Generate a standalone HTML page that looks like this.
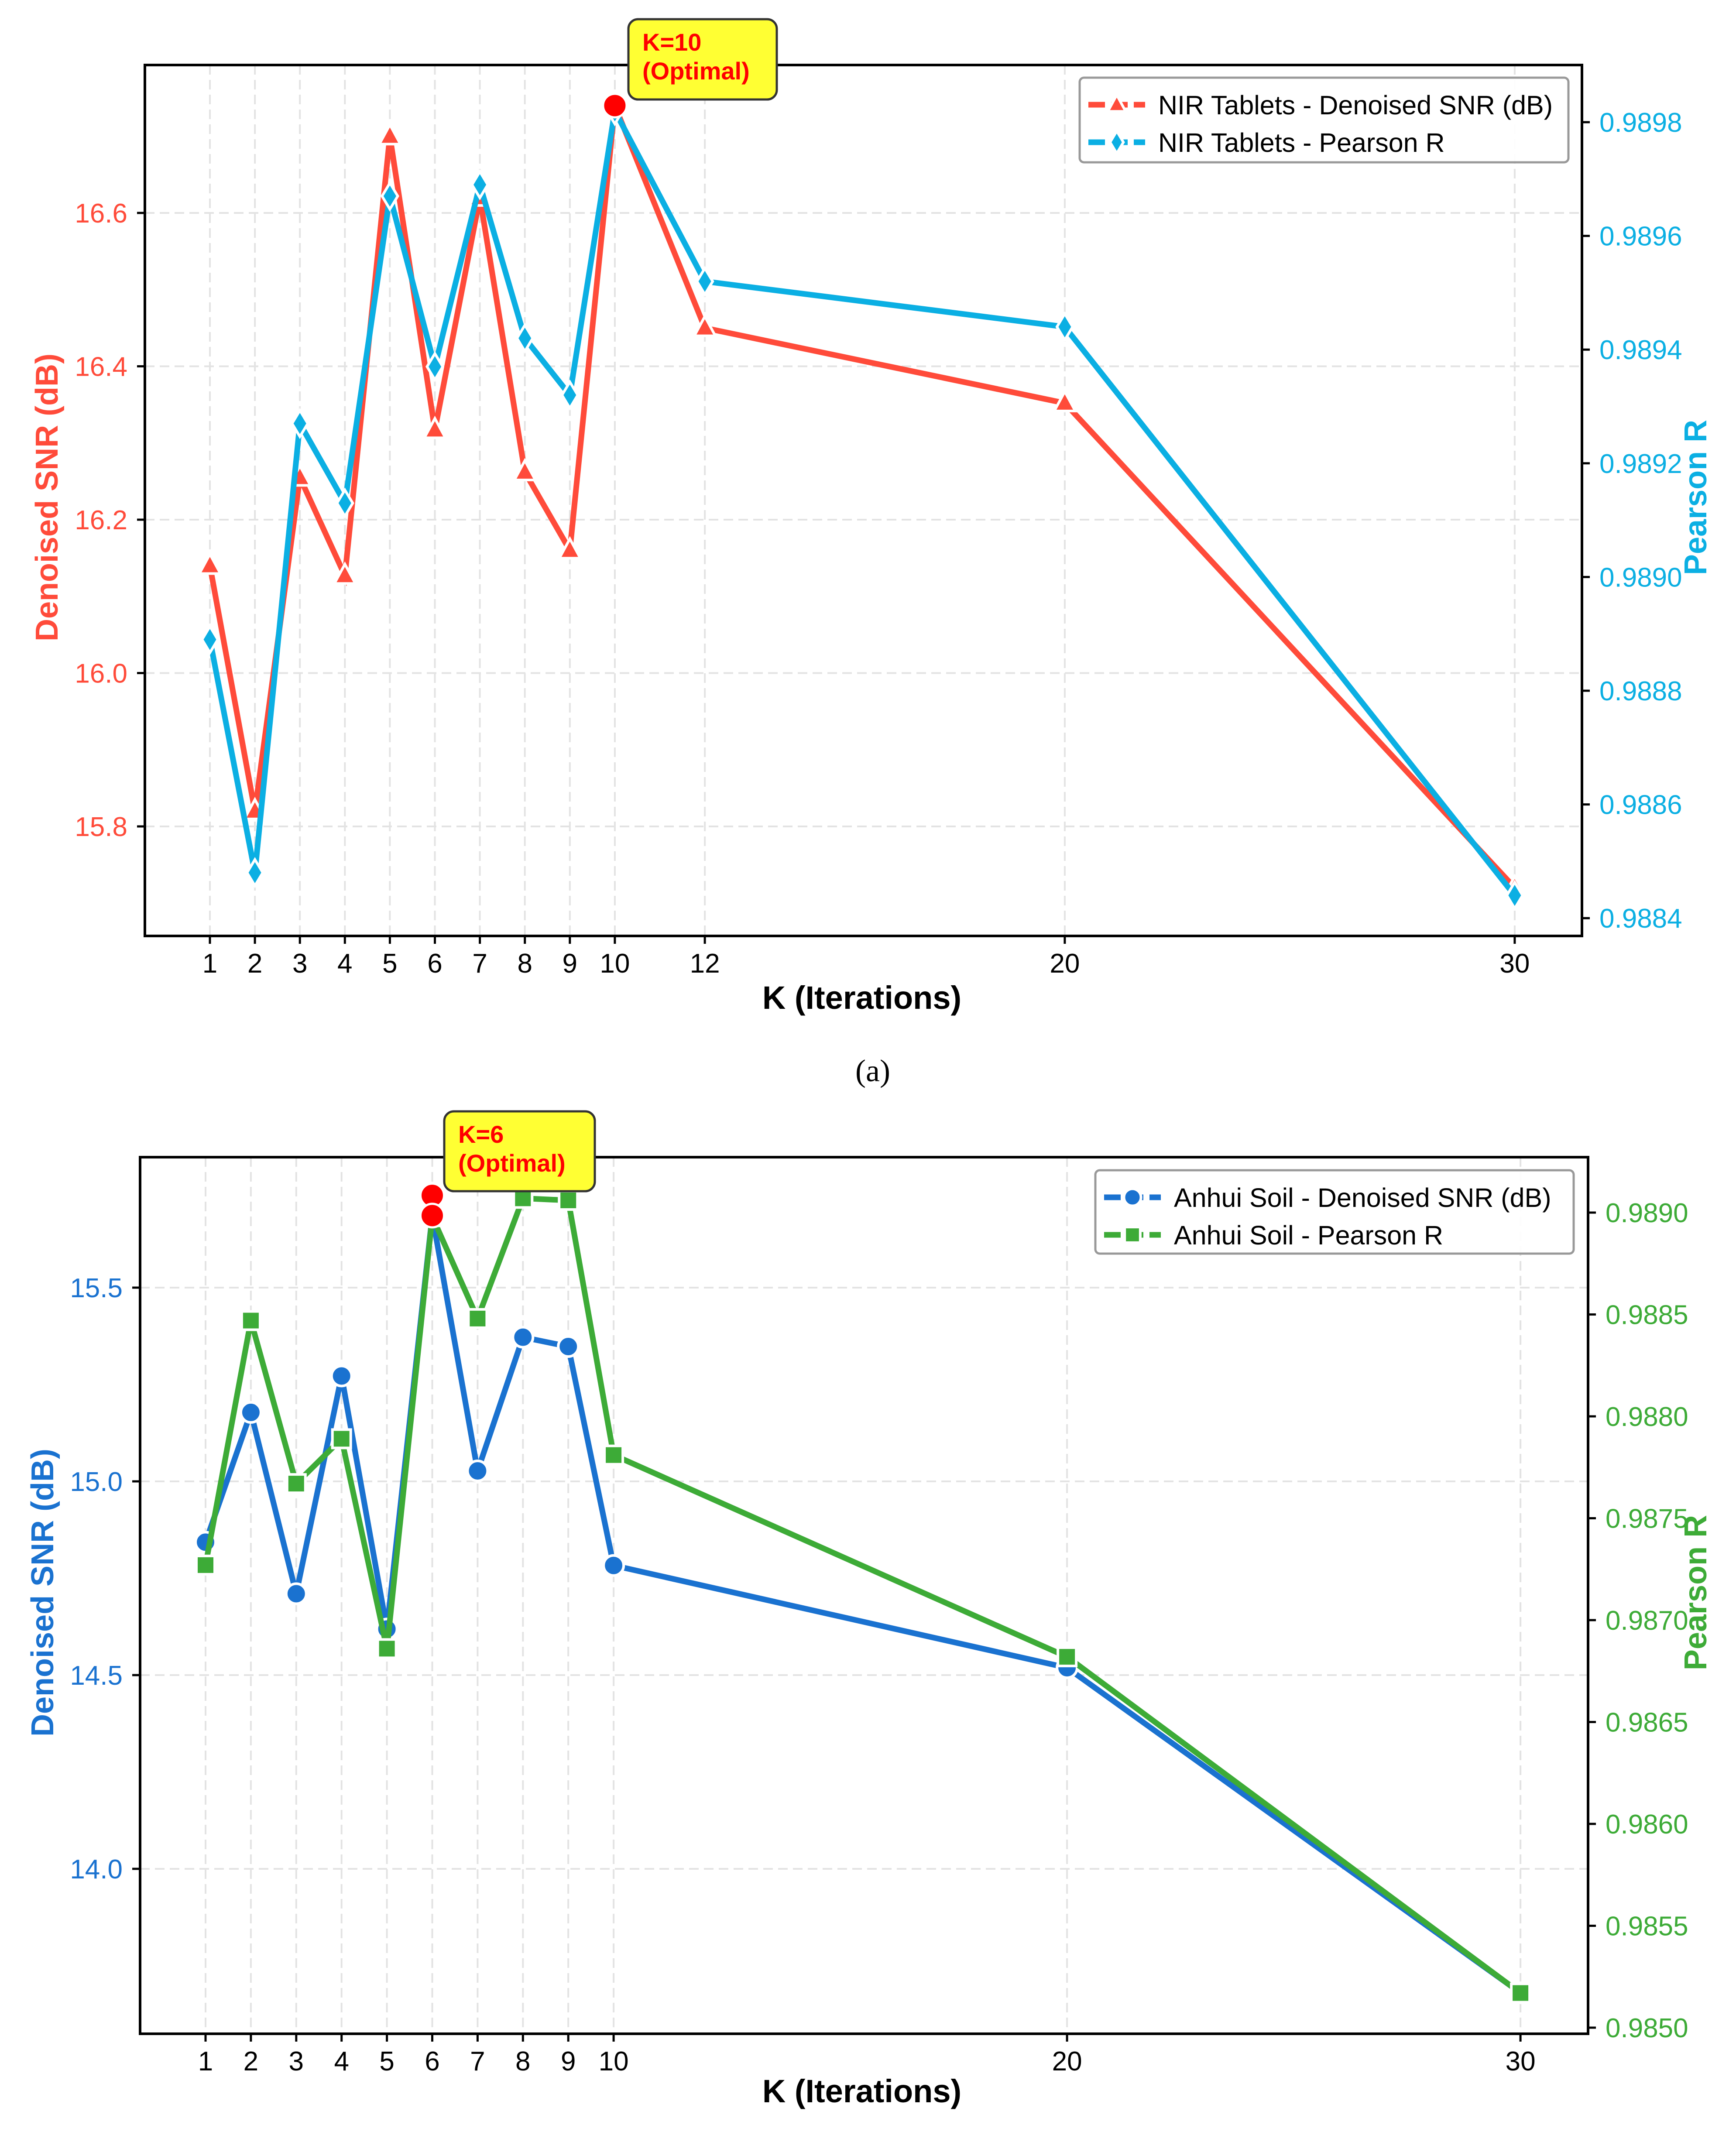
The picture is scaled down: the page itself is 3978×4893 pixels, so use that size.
<!DOCTYPE html>
<html><head><meta charset="utf-8">
<style>
html,body{margin:0;padding:0;background:#fff;}
svg{display:block;font-family:"Liberation Sans",Arial,sans-serif;}
</style></head>
<body>
<svg id="fig" width="3978" height="4893" viewBox="0 0 3978 4893" xmlns="http://www.w3.org/2000/svg">
<rect width="3978" height="4893" fill="#fff"/>
<g id="chartA"></g>
<g id="chartB"></g>
<text x="2000" y="2478" font-family="Liberation Serif, serif" font-size="72" text-anchor="middle">(a)</text>
</svg>
<script>
// ---------- data ----------
const kA = [1,2,3,4,5,6,7,8,9,10,12,20,30];
const snrA = [16.14,15.82,16.255,16.127,16.70,16.317,16.62,16.262,16.16,16.74,16.45,16.352,15.72];
const pearA = [0.98889,0.98848,0.98927,0.98913,0.98967,0.98937,0.98969,0.98942,0.98932,0.98982,0.98952,0.98944,0.98844];
const xTicksA = [1,2,3,4,5,6,7,8,9,10,12,20,30];
const yTicksLA = [15.8,16.0,16.2,16.4,16.6];
const yTicksRA = [0.9884,0.9886,0.9888,0.9890,0.9892,0.9894,0.9896,0.9898];

const kB = [1,2,3,4,5,6,7,8,9,10,20,30];
const snrB = [14.843,15.178,14.71,15.272,14.619,15.686,15.027,15.372,15.348,14.783,14.519,13.68];
const pearB = [0.98727,0.98847,0.98767,0.98789,0.98686,0.98898,0.98848,0.98907,0.98906,0.98781,0.98682,0.98517];
const xTicksB = [1,2,3,4,5,6,7,8,9,10,20,30];
const yTicksLB = [14.0,14.5,15.0,15.5];
const yTicksRB = [0.9850,0.9855,0.9860,0.9865,0.9870,0.9875,0.9880,0.9885,0.9890];

const NS = "http://www.w3.org/2000/svg";
function mk(parent, tag, attrs, text){
  const e = document.createElementNS(NS, tag);
  for (const k in attrs) e.setAttribute(k, attrs[k]);
  if (text !== undefined) e.textContent = text;
  parent.appendChild(e);
  return e;
}
function marker(g, type, cx, cy, color, s){
  let e;
  if (type === 'tri') {
    e = mk(g,'polygon',{points:`${cx},${cy-s*1.1} ${cx-s},${cy+s*0.75} ${cx+s},${cy+s*0.75}`,fill:color,stroke:'#fff','stroke-width':6});
  } else if (type === 'dia') {
    e = mk(g,'polygon',{points:`${cx},${cy-s*1.25} ${cx+s*0.75},${cy} ${cx},${cy+s*1.25} ${cx-s*0.75},${cy}`,fill:color,stroke:'#fff','stroke-width':6});
  } else if (type === 'circ') {
    e = mk(g,'circle',{cx:cx,cy:cy,r:s,fill:color,stroke:'#fff','stroke-width':6});
  } else {
    e = mk(g,'rect',{x:cx-s,y:cy-s,width:2*s,height:2*s,fill:color,stroke:'#fff','stroke-width':6});
  }
  return e;
}

function drawChart(cfg){
  const g = document.getElementById(cfg.id);
  const X = k => cfg.x1 + (k-1)*cfg.dx;
  const YL = v => cfg.yL0 + (cfg.vL0 - v)/cfg.stepL*cfg.pxL;
  const YR = v => cfg.yR0 + (cfg.vR0 - v)/cfg.stepR*cfg.pxR;
  cfg.xTicks.forEach(k=>{
    const l = mk(g,'line',{x1:X(k),x2:X(k),y1:cfg.top,y2:cfg.bottom,stroke:'#e3e3e3','stroke-width':4,'stroke-dasharray':'22 12'});
    
    
  });
  cfg.yTicksL.forEach(v=>{
    const l = mk(g,'line',{x1:cfg.left,x2:cfg.right,y1:YL(v),y2:YL(v),stroke:'#e3e3e3','stroke-width':4,'stroke-dasharray':'22 12'});
    
    
  });
  const s1 = mk(g,'g',{});
  
  
  mk(s1,'polyline',{points:cfg.k.map((k,i)=>X(k)+','+YL(cfg.v1[i])).join(' '),fill:'none',stroke:cfg.c1,'stroke-width':13,'stroke-linejoin':'miter'});
  cfg.k.forEach((k,i)=>{
    const m = marker(s1,cfg.m1,X(k),YL(cfg.v1[i]),cfg.c1,cfg.ms1);
    
    
  });
  const s2 = mk(g,'g',{});
  
  
  mk(s2,'polyline',{points:cfg.k.map((k,i)=>X(k)+','+YR(cfg.v2[i])).join(' '),fill:'none',stroke:cfg.c2,'stroke-width':13,'stroke-linejoin':'miter'});
  cfg.k.forEach((k,i)=>{
    const m = marker(s2,cfg.m2,X(k),YR(cfg.v2[i]),cfg.c2,cfg.ms2);
    
    
  });
  cfg.opt.forEach(v=>{
    const c = mk(g,'circle',{cx:X(cfg.optK),cy:YL(v),r:27,fill:'#ff0000',stroke:'#fff','stroke-width':5});
    
    
  });
  const fr = mk(g,'rect',{x:cfg.left,y:cfg.top,width:cfg.right-cfg.left,height:cfg.bottom-cfg.top,fill:'none',stroke:'#000','stroke-width':6});
  
  
  cfg.xTicks.forEach(k=>{
    mk(g,'line',{x1:X(k),x2:X(k),y1:cfg.bottom,y2:cfg.bottom+18,stroke:'#000','stroke-width':5});
    const t = mk(g,'text',{x:X(k),y:cfg.bottom+84,'font-size':62,'text-anchor':'middle',fill:'#000'},String(k));
    
    
  });
  cfg.yTicksL.forEach(v=>{
    mk(g,'line',{x1:cfg.left-18,x2:cfg.left,y1:YL(v),y2:YL(v),stroke:'#000','stroke-width':5});
    const t = mk(g,'text',{x:cfg.left-40,y:YL(v)+22,'font-size':62,'text-anchor':'end',fill:cfg.c1},v.toFixed(1));
    
    
  });
  cfg.yTicksR.forEach(v=>{
    mk(g,'line',{x1:cfg.right,x2:cfg.right+18,y1:YR(v),y2:YR(v),stroke:'#000','stroke-width':5});
    const t = mk(g,'text',{x:cfg.right+40,y:YR(v)+22,'font-size':62,'text-anchor':'start',fill:cfg.c2},v.toFixed(4));
    
    
  });
  const xt = mk(g,'text',{x:cfg.xlabX,y:cfg.xlabY,'font-size':74,'font-weight':'bold','text-anchor':'middle',fill:'#000'},'K (Iterations)');
  
  
  const yl = mk(g,'text',{x:0,y:0,'font-size':72,'font-weight':'bold','text-anchor':'middle',fill:cfg.c1,transform:`translate(${cfg.ylabLX},${cfg.ylabY}) rotate(-90)`},'Denoised SNR (dB)');
  
  
  const yr = mk(g,'text',{x:0,y:0,'font-size':72,'font-weight':'bold','text-anchor':'middle',fill:cfg.c2,transform:`translate(${cfg.ylabRX},${cfg.ylabY}) rotate(-90)`},'Pearson R');
  
  
  const lg = mk(g,'g',{});
  
  
  mk(lg,'rect',{x:cfg.lgX,y:cfg.lgY,width:cfg.lgW,height:cfg.lgH,rx:10,fill:'#fff','fill-opacity':0.9,stroke:'#999','stroke-width':5});
  [[cfg.c1,cfg.m1,cfg.lab1,cfg.ms1],[cfg.c2,cfg.m2,cfg.lab2,cfg.ms2]].forEach((r,i)=>{
    const yy = cfg.lgY + 62 + i*86;
    const e = mk(lg,'g',{});
    
    
    mk(e,'line',{x1:cfg.lgX+20,x2:cfg.lgX+150,y1:yy,y2:yy,stroke:r[0],'stroke-width':13,'stroke-dasharray':'38 14'});
    marker(e,r[1],cfg.lgX+85,yy,r[0],r[3]*0.85);
    mk(e,'text',{x:cfg.lgX+180,y:yy+22,'font-size':61,fill:'#000'},r[2]);
  });
  const an = mk(g,'g',{});
  
  
  mk(an,'rect',{x:cfg.anX,y:cfg.anY,width:cfg.anW,height:cfg.anH,rx:22,fill:'#ffff33',stroke:'#333','stroke-width':5});
  mk(an,'text',{x:cfg.anX+32,y:cfg.anY+72,'font-size':56,'font-weight':'bold',fill:'#ff0000'},cfg.anT);
  mk(an,'text',{x:cfg.anX+32,y:cfg.anY+138,'font-size':56,'font-weight':'bold',fill:'#ff0000'},'(Optimal)');
}

drawChart({id:'chartA',left:332,right:3625,top:149,bottom:2145,x1:481,dx:103.1,
  yL0:488,vL0:16.6,stepL:0.2,pxL:351.5,yR0:280,vR0:0.9898,stepR:0.0002,pxR:260.6,
  k:kA,v1:snrA,v2:pearA,xTicks:xTicksA,yTicksL:yTicksLA,yTicksR:yTicksRA,
  c1:'#ff4b3a',c2:'#0bafe3',m1:'tri',m2:'dia',ms1:24,ms2:24,
  name1:'snr-series',name2:'pearson-series',
  lab1:'NIR Tablets - Denoised SNR (dB)',lab2:'NIR Tablets - Pearson R',
  opt:[16.74],optK:10,
  xlabX:1975,xlabY:2312,ylabLX:132,ylabRX:3910,ylabY:1140,
  lgX:2474,lgY:178,lgW:1120,lgH:194,
  anX:1440,anY:44,anW:340,anH:184,anT:'K=10'});

drawChart({id:'chartB',left:321,right:3639,top:2652,bottom:4661,x1:471,dx:103.9,
  yL0:2951,vL0:15.5,stepL:0.5,pxL:444,yR0:2779,vR0:0.9890,stepR:0.0005,pxR:233.5,
  k:kB,v1:snrB,v2:pearB,xTicks:xTicksB,yTicksL:yTicksLB,yTicksR:yTicksRB,
  c1:'#1a72d0',c2:'#3dab37',m1:'circ',m2:'sq',ms1:23,ms2:21,
  name1:'snr-series',name2:'pearson-series',
  lab1:'Anhui Soil - Denoised SNR (dB)',lab2:'Anhui Soil - Pearson R',
  opt:[15.738,15.686],optK:6,
  xlabX:1975,xlabY:4818,ylabLX:122,ylabRX:3910,ylabY:3650,
  lgX:2510,lgY:2682,lgW:1096,lgH:191,
  anX:1018,anY:2547,anW:345,anH:183,anT:'K=6'});
</script>
</body></html>
